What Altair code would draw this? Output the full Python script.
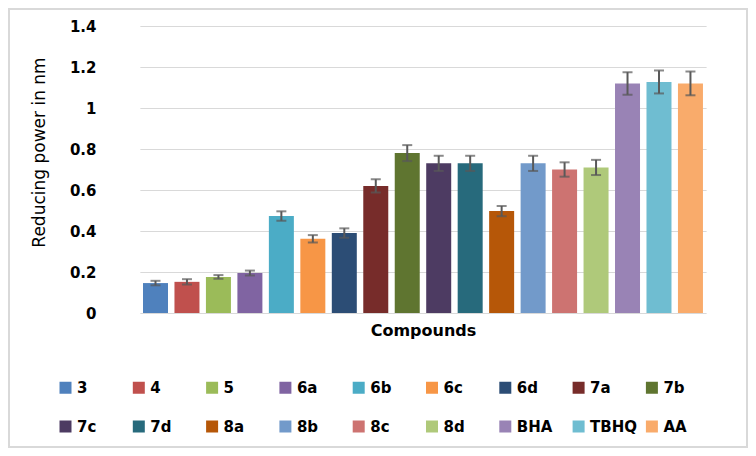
import altair as alt
import pandas as pd

compounds = ["3", "4", "5", "6a", "6b", "6c", "6d", "7a", "7b",
             "7c", "7d", "8a", "8b", "8c", "8d", "BHA", "TBHQ", "AA"]
values = [0.146, 0.152, 0.176, 0.195, 0.473, 0.362, 0.39, 0.62, 0.78,
          0.73, 0.73, 0.497, 0.73, 0.70, 0.71, 1.12, 1.127, 1.12]
errors = [0.011, 0.013, 0.009, 0.012, 0.023, 0.018, 0.023, 0.032, 0.039,
          0.037, 0.037, 0.025, 0.037, 0.035, 0.037, 0.055, 0.056, 0.058]
colors = ["#4F81BD", "#C0504D", "#9BBB59", "#8064A2", "#4BACC6", "#F79646",
          "#2C4D75", "#772C2A", "#5F7530", "#4D3B62", "#276A7C", "#B65708",
          "#729ACA", "#CD7371", "#AFC97A", "#9983B5", "#6FBDD1", "#F9AB6B"]
y_ticks = [0, 0.2, 0.4, 0.6, 0.8, 1.0, 1.2, 1.4]

df = pd.DataFrame({"compound": compounds, "value": values, "err": errors})
df["lo"] = df["value"] - df["err"]
df["hi"] = df["value"] + df["err"]

FONT = "DejaVu Sans"

x_scale = alt.Scale(domain=compounds, range=[23.85, 590.1],
                    paddingInner=0.2056, paddingOuter=0.1)
y_scale = alt.Scale(domain=[0, 1.4], nice=False)

x_enc = alt.X(
    "compound:N",
    sort=compounds,
    scale=x_scale,
    axis=alt.Axis(labels=False, ticks=False, domain=False, grid=False,
                  title="Compounds", titleFont=FONT, titleFontSize=16,
                  titleFontWeight="bold", titleColor="#000000",
                  titleBaseline="alphabetic", titleY=22),
)

bars = alt.Chart(df).mark_bar().encode(
    x=x_enc,
    y=alt.Y("value:Q", scale=y_scale,
            axis=alt.Axis(values=y_ticks, format=".1~f", domain=False,
                          ticks=False, labelPadding=20, labelFont=FONT,
                          labelFontSize=15, labelFontWeight="bold",
                          labelColor="#000000", grid=True,
                          gridColor="#D9D9D9", gridWidth=1,
                          title="Reducing power in nm", titleFont=FONT,
                          titleFontSize=17, titleFontWeight="normal",
                          titleColor="#000000", titleBaseline="middle",
                          titleX=-77, titleY=126)),
    color=alt.Color("compound:N", sort=compounds,
                    scale=alt.Scale(domain=compounds, range=colors),
                    legend=alt.Legend(title=None, orient="none",
                                      direction="horizontal",
                                      legendX=-58, legendY=354,
                                      columns=9, gridAlign="all",
                                      symbolType="square", symbolSize=144,
                                      symbolStrokeWidth=0, labelFont=FONT,
                                      labelFontSize=15,
                                      labelFontWeight="bold",
                                      labelColor="#000000", labelOffset=4,
                                      columnPadding=7.3, rowPadding=23,
                                      padding=0)),
)

x_plain = alt.X("compound:N", sort=compounds, scale=x_scale)

rules = alt.Chart(df).mark_rule(color="#595959", strokeWidth=2).encode(
    x=x_plain,
    y=alt.Y("lo:Q", scale=y_scale),
    y2="hi:Q",
)

caps_lo = alt.Chart(df).mark_tick(color="#595959", size=10, thickness=2).encode(
    x=x_plain,
    y=alt.Y("lo:Q", scale=y_scale),
)
caps_hi = alt.Chart(df).mark_tick(color="#595959", size=10, thickness=2).encode(
    x=x_plain,
    y=alt.Y("hi:Q", scale=y_scale),
)

border = alt.Chart(pd.DataFrame({"a": [0]})).mark_rect(
    fillOpacity=0, stroke="#D9D9D9", strokeWidth=2
).encode(
    x=alt.value(-107), x2=alt.value(631),
    y=alt.value(-17), y2=alt.value(421),
)

chart = alt.layer(border, bars, rules, caps_lo, caps_hi).properties(
    width=615, height=287,
    autosize=alt.AutoSizeParams(type="none"),
    padding={"left": 108, "top": 18, "right": 17, "bottom": 135},
    view=alt.ViewBackground(strokeWidth=0, strokeOpacity=0),
).configure_view(strokeWidth=0, strokeOpacity=0).configure_axis(
    domain=False, ticks=False
).configure(background="#FFFFFF")

chart.save("out.html", embed_options={"renderer": "svg", "actions": False})
